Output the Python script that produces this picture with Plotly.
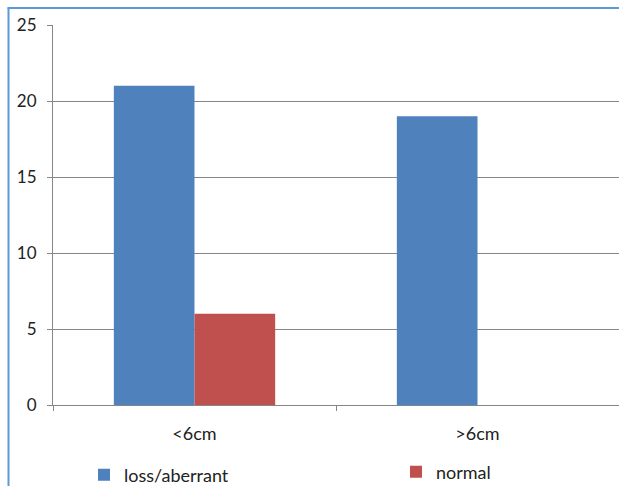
import plotly.graph_objects as go

categories = ["<6cm", ">6cm"]
loss_aberrant = [21, 19]
normal = [6, 0]
series_names = ["loss/aberrant", "normal"]
y_ticks = [0, 5, 10, 15, 20, 25]

W, H = 619, 486
L, R, T, B = 53, 0, 25, 81
pw, ph = W - L - R, H - T - B

def px_x(px):
    return (px - L) / pw

def px_y(py):
    return (H - B - py) / ph

fig = go.Figure()
fig.add_trace(go.Bar(x=categories, y=loss_aberrant, name=series_names[0],
                     marker=dict(color="#4f81bd", line=dict(width=0)), legend="legend"))
fig.add_trace(go.Bar(x=categories, y=normal, name=series_names[1],
                     marker=dict(color="#c0504d", line=dict(width=0)), legend="legend2"))

font = dict(family="Lato, Liberation Sans, sans-serif", size=18, color="#222222")
yfont = dict(family="Lato, Liberation Sans, sans-serif", size=17, color="#222222")

fig.update_layout(
    width=W, height=H,
    margin=dict(l=L, r=R, t=T, b=B, autoexpand=False),
    paper_bgcolor="white", plot_bgcolor="white",
    barmode="group", bargap=0.43, bargroupgap=0,
    font=font,
    showlegend=True,
    legend=dict(x=px_x(84), y=px_y(475), xanchor="left", yanchor="middle",
                font=font, bgcolor="rgba(0,0,0,0)"),
    legend2=dict(x=px_x(396), y=px_y(472), xanchor="left", yanchor="middle",
                 font=font, bgcolor="rgba(0,0,0,0)"),
    xaxis=dict(showgrid=False, showline=True, linecolor="#868686", linewidth=1,
               ticks="outside", tickson="boundaries", ticklen=5, tickcolor="#868686",
               tickfont=font, ticklabelstandoff=12, range=[-0.5, 1.5], fixedrange=True),
    yaxis=dict(range=[0, 25], tickvals=y_ticks, showgrid=True, gridcolor="#868686",
               gridwidth=1, showline=True, linecolor="#868686", linewidth=1,
               ticks="outside", ticklen=5, tickcolor="#868686", tickfont=yfont,
               ticklabelstandoff=7, zeroline=False, fixedrange=True),
    shapes=[
        dict(type="line", xref="paper", yref="paper", x0=px_x(8.5), x1=px_x(8.5),
             y0=px_y(495), y1=px_y(7.5), line=dict(color="#5b9bd5", width=2)),
        dict(type="line", xref="paper", yref="paper", x0=px_x(7.5), x1=px_x(625),
             y0=px_y(8), y1=px_y(8), line=dict(color="#5b9bd5", width=2)),
    ],
)

fig.write_html("out.html")
